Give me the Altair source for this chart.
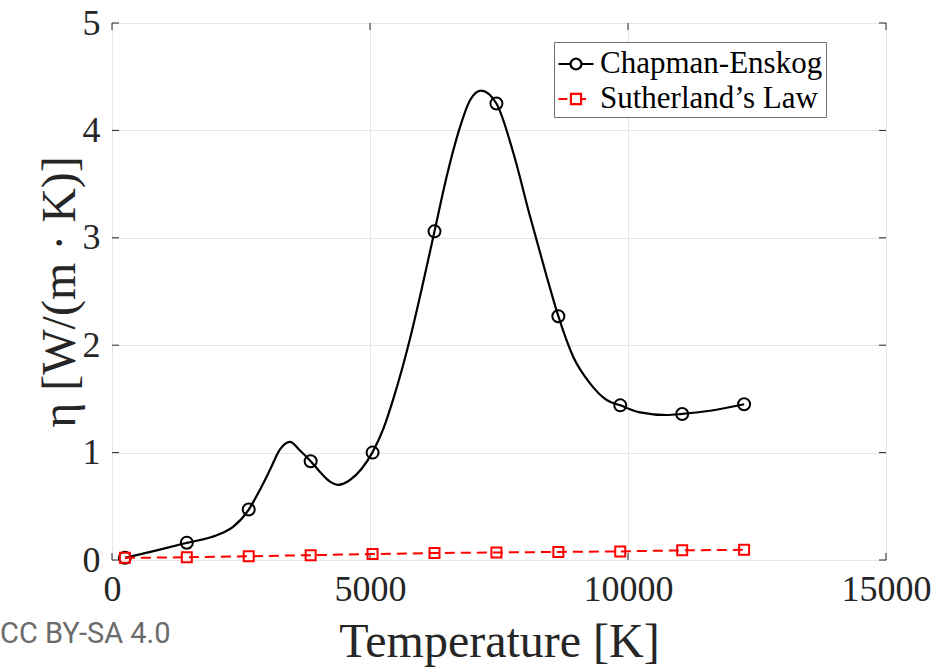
import altair as alt
import pandas as pd

# ---- data ----
# smooth Chapman-Enskog curve (sampled along the drawn line)
curve_T = [250, 866, 1453, 2029, 2351, 2650, 2868, 3062, 3256, 3450, 3643, 3850,
           4031, 4225, 4386, 4612, 4838, 5045, 5258, 5452, 5775, 6033, 6250, 6486,
           6744, 6938, 7151, 7450, 7778, 8101, 8424, 8650, 8940, 9264, 9587, 9850,
           10233, 10750, 11050, 11589, 12250]
curve_eta = [0.02, 0.09, 0.16, 0.23, 0.31, 0.47, 0.655, 0.84, 1.03, 1.10, 1.02, 0.92,
             0.82, 0.73, 0.70, 0.745, 0.85, 1.00, 1.22, 1.50, 2.06, 2.59, 3.06, 3.57,
             4.03, 4.28, 4.37, 4.25, 3.79, 3.20, 2.64, 2.27, 1.89, 1.645, 1.49, 1.44,
             1.375, 1.35, 1.36, 1.39, 1.45]

# marker positions
marker_T = [250, 1450, 2650, 3850, 5050, 6250, 7450, 8650, 9850, 11050, 12250]
chapman_eta = [0.02, 0.16, 0.47, 0.92, 1.00, 3.06, 4.25, 2.27, 1.44, 1.36, 1.45]
sutherland_eta = [0.02, 0.025, 0.035, 0.045, 0.055, 0.065, 0.07, 0.075, 0.08, 0.09, 0.095]

series_names = ["Chapman-Enskog", "Sutherland\u2019s Law"]
series_colors = ["#000000", "#ff0000"]

x_ticks = [0, 5000, 10000, 15000]
y_ticks = [0, 1, 2, 3, 4, 5]
CREDIT = "CC BY-SA 4.0"

# ---- tables ----
curve_df = pd.DataFrame({"T": curve_T, "eta": curve_eta})
ce_df = pd.DataFrame({"T": marker_T, "eta": chapman_eta, "series": series_names[0]})
su_df = pd.DataFrame({"T": marker_T, "eta": sutherland_eta, "series": series_names[1]})
markers_df = pd.concat([ce_df, su_df], ignore_index=True)
xt_df = pd.DataFrame({"T": x_ticks})
yt_df = pd.DataFrame({"eta": y_ticks})
credit_df = pd.DataFrame({"label": [CREDIT]})

W, H = 774, 537
SERIF = "Liberation Serif"
AX = "#262626"

x_scale = alt.Scale(domain=[0, 15000], nice=False, zero=False)
y_scale = alt.Scale(domain=[0, 5], nice=False, zero=False)

x_axis = alt.Axis(values=x_ticks, format="d", title="Temperature [K]",
                  labelFont=SERIF, labelFontSize=36, labelColor=AX,
                  labelPadding=12, labelFlush=False, labelOverlap=False,
                  ticks=False, domain=False,
                  grid=True, gridColor="#e6e6e6", gridWidth=1,
                  titleFont=SERIF, titleFontSize=48, titleFontWeight="normal",
                  titleColor=AX, titleY=82, titleBaseline="middle")
y_axis = alt.Axis(values=y_ticks, format="d",
                  title="\u03b7 [W/(m \u00b7 K)]",
                  labelFont=SERIF, labelFontSize=36, labelColor=AX,
                  labelPadding=12, labelFlush=False, labelOverlap=False,
                  ticks=False, domain=False,
                  grid=True, gridColor="#e6e6e6", gridWidth=1,
                  titleFont=SERIF, titleFontSize=48, titleFontWeight="normal",
                  titleColor=AX, titleX=-52, titleBaseline="middle")

ce_line = alt.Chart(curve_df).mark_line(
    color="black", strokeWidth=2.2, interpolate="monotone"
).encode(
    x=alt.X("T:Q", scale=x_scale, axis=x_axis),
    y=alt.Y("eta:Q", scale=y_scale, axis=y_axis),
)

ce_pts = alt.Chart(ce_df).mark_point(
    shape="circle", filled=False, color="black", size=144, strokeWidth=2, opacity=1
).encode(x="T:Q", y="eta:Q")

su_line = alt.Chart(su_df).mark_line(
    color="#ff0000", strokeWidth=2, strokeDash=[10, 6]
).encode(x="T:Q", y="eta:Q")

su_pts = alt.Chart(su_df).mark_point(
    shape="square", filled=False, color="#ff0000", size=100, strokeWidth=2, opacity=1
).encode(x="T:Q", y="eta:Q")

# legend carrier (invisible points, legend symbols show line + marker)
legend_paths = [
    "M-1,0H-0.31M0.31,0H1M-0.31,0A0.31,0.31,0,1,1,0.31,0A0.31,0.31,0,1,1,-0.31,0",
    "M-1,0H-0.5M-0.29,-0.29H0.29V0.29H-0.29ZM0.29,0H0.57",
]
legend_props = dict(
    title=None, orient="none", legendX=442, legendY=19,
    strokeColor="#6e6e6e", fillColor="white", padding=3,
    labelFont=SERIF, labelFontSize=31, labelColor="black", labelLimit=0,
    labelOffset=5, rowPadding=1,
    symbolSize=1225, symbolStrokeWidth=2.2, symbolOpacity=1,
    symbolFillColor="transparent",
)
legend_layer = alt.Chart(markers_df).mark_point(filled=False, opacity=0).encode(
    x="T:Q", y="eta:Q",
    color=alt.Color("series:N", scale=alt.Scale(domain=series_names, range=series_colors),
                    legend=alt.Legend(**legend_props)),
    shape=alt.Shape("series:N", scale=alt.Scale(domain=series_names, range=legend_paths),
                    legend=alt.Legend(**legend_props)),
)

# inward tick marks (MATLAB style), on all four sides
tick_len = 7
yt_left = alt.Chart(yt_df).mark_rule(color=AX, strokeWidth=1).encode(
    y="eta:Q", x=alt.value(0), x2=alt.value(tick_len))
yt_right = alt.Chart(yt_df).mark_rule(color=AX, strokeWidth=1).encode(
    y="eta:Q", x=alt.value(W - tick_len), x2=alt.value(W))
xt_bottom = alt.Chart(xt_df).mark_rule(color=AX, strokeWidth=1).encode(
    x="T:Q", y=alt.value(H - tick_len), y2=alt.value(H))
xt_top = alt.Chart(xt_df).mark_rule(color=AX, strokeWidth=1).encode(
    x="T:Q", y=alt.value(0), y2=alt.value(tick_len))

credit = alt.Chart(credit_df).mark_text(
    align="left", baseline="middle", font="Roboto", fontSize=29, color="#6b6b6b"
).encode(x=alt.value(-112), y=alt.value(611), text="label:N")

chart = alt.layer(
    ce_line, yt_left, yt_right, xt_bottom, xt_top, ce_pts, su_line, su_pts,
    legend_layer, credit
).properties(
    width=W, height=H,
    autosize=alt.AutoSizeParams(type="none"),
    padding={"left": 112, "top": 23, "right": 65, "bottom": 107},
    background="white",
).configure_view(stroke="#404040", strokeWidth=1)

chart.save("out.html", embed_options={"renderer": "svg", "actions": False})
